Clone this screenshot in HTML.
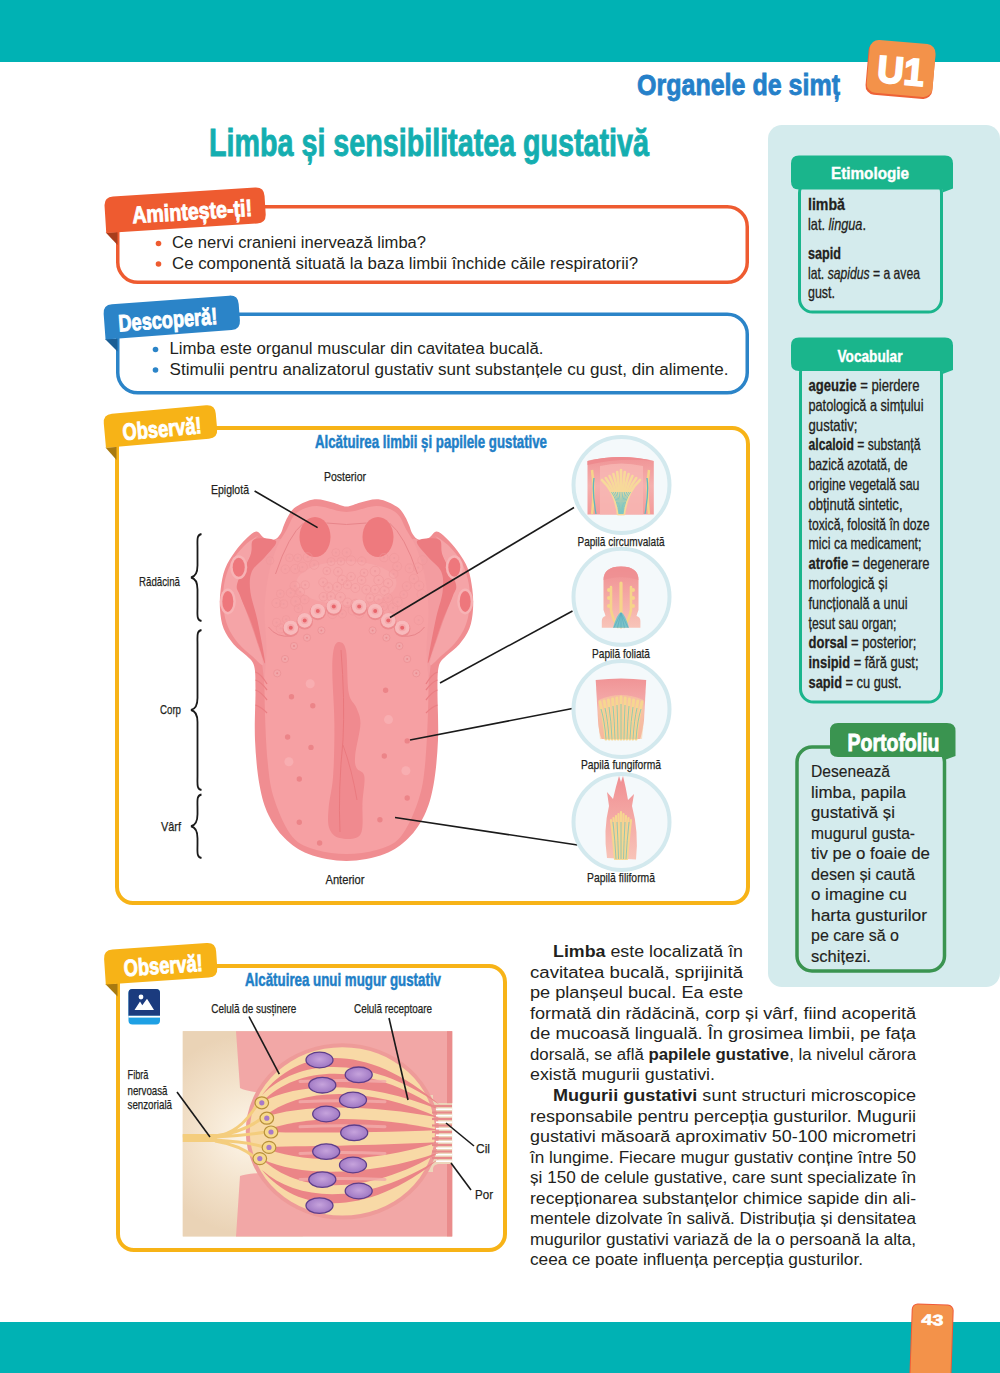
<!DOCTYPE html>
<html><head><meta charset="utf-8"><title>Limba</title>
<style>
html,body{margin:0;padding:0;background:#fff;width:1000px;height:1373px;overflow:hidden}
svg{display:block;font-family:"Liberation Sans", sans-serif}
</style></head><body>
<svg width="1000" height="1373" viewBox="0 0 1000 1373">
<rect x="0" y="0" width="1000" height="62" fill="#00b2b4"/>
<rect x="0" y="1322" width="1000" height="51" fill="#00b2b4"/>
<g transform="rotate(5 902 70)"><rect x="867" y="44" width="67" height="53" rx="9" fill="#ee6236"/><rect x="868" y="42" width="66" height="53" rx="9" fill="#f3924a"/><text x="901" y="84" font-size="38" font-weight="bold" fill="#fff" text-anchor="middle" textLength="47" lengthAdjust="spacingAndGlyphs" stroke="#fff" stroke-width="1.8">U1</text></g>
<g transform="rotate(2 932 1330)"><rect x="911" y="1304" width="42" height="90" rx="6" fill="#f05a3a"/><rect x="912" y="1305" width="40" height="90" rx="5" fill="#f3924a"/><text x="932" y="1325" font-size="15" font-weight="bold" fill="#fff" text-anchor="middle" textLength="22" lengthAdjust="spacingAndGlyphs" stroke="#fff" stroke-width="0.6">43</text></g>
<text x="637" y="95.3" font-size="29.5" font-weight="bold" fill="#2580c9" textLength="203" lengthAdjust="spacingAndGlyphs" stroke="#2580c9" stroke-width="0.8">Organele de simț</text>
<text x="209" y="156" font-size="39" font-weight="bold" fill="#14aeb0" textLength="440" lengthAdjust="spacingAndGlyphs" stroke="#14aeb0" stroke-width="0.9">Limba și sensibilitatea gustativă</text>
<rect x="768" y="125" width="232" height="862" rx="14" fill="#d4ebed"/>
<rect x="799.5" y="180" width="142" height="132" rx="13" fill="none" stroke="#1ab58c" stroke-width="3"/>
<path d="M799,155.5 H945 Q953,155.5 953,163.5 V188.5 L942.5,192.5 V189.5 H799 Q791,189.5 791,181.5 V163.5 Q791,155.5 799,155.5 Z" fill="#1ab58c"/>
<text x="870" y="178.5" font-size="16.5" font-weight="bold" fill="#fff" text-anchor="middle" textLength="78" lengthAdjust="spacingAndGlyphs" stroke="#fff" stroke-width="0.4">Etimologie</text>
<text x="808" y="209.5" font-size="16.5" font-weight="bold" fill="#231f20" textLength="37" lengthAdjust="spacingAndGlyphs" stroke="#231f20" stroke-width="0.3">limbă</text>
<text x="808" y="229.5" font-size="16.5" fill="#231f20" textLength="58" lengthAdjust="spacingAndGlyphs" stroke="#231f20" stroke-width="0.3">lat. <tspan font-style="italic">lingua</tspan>.</text>
<text x="808" y="258.5" font-size="16.5" font-weight="bold" fill="#231f20" textLength="33" lengthAdjust="spacingAndGlyphs" stroke="#231f20" stroke-width="0.3">sapid</text>
<text x="808" y="278.5" font-size="16.5" fill="#231f20" textLength="112" lengthAdjust="spacingAndGlyphs" stroke="#231f20" stroke-width="0.3">lat. <tspan font-style="italic">sapidus</tspan> = a avea</text>
<text x="808" y="298" font-size="16.5" fill="#231f20" textLength="27" lengthAdjust="spacingAndGlyphs" stroke="#231f20" stroke-width="0.3">gust.</text>
<rect x="800.5" y="360" width="141" height="342" rx="13" fill="none" stroke="#1ab58c" stroke-width="3"/>
<path d="M799,337.5 H945 Q953,337.5 953,345.5 V370 L942.5,374 V371 H799 Q791,371 791,363 V345.5 Q791,337.5 799,337.5 Z" fill="#1ab58c"/>
<text x="870" y="362" font-size="16.5" font-weight="bold" fill="#fff" text-anchor="middle" textLength="65" lengthAdjust="spacingAndGlyphs" stroke="#fff" stroke-width="0.4">Vocabular</text>
<text x="808.5" y="391.0" font-size="16.5" fill="#231f20" textLength="111" lengthAdjust="spacingAndGlyphs" stroke="#231f20" stroke-width="0.3"><tspan font-weight="bold">ageuzie</tspan> = pierdere</text>
<text x="808.5" y="410.8" font-size="16.5" fill="#231f20" textLength="115" lengthAdjust="spacingAndGlyphs" stroke="#231f20" stroke-width="0.3">patologică a simțului</text>
<text x="808.5" y="430.6" font-size="16.5" fill="#231f20" textLength="49" lengthAdjust="spacingAndGlyphs" stroke="#231f20" stroke-width="0.3">gustativ;</text>
<text x="808.5" y="450.4" font-size="16.5" fill="#231f20" textLength="112" lengthAdjust="spacingAndGlyphs" stroke="#231f20" stroke-width="0.3"><tspan font-weight="bold">alcaloid</tspan> = substanță</text>
<text x="808.5" y="470.2" font-size="16.5" fill="#231f20" textLength="99" lengthAdjust="spacingAndGlyphs" stroke="#231f20" stroke-width="0.3">bazică azotată, de</text>
<text x="808.5" y="490.0" font-size="16.5" fill="#231f20" textLength="111" lengthAdjust="spacingAndGlyphs" stroke="#231f20" stroke-width="0.3">origine vegetală sau</text>
<text x="808.5" y="509.8" font-size="16.5" fill="#231f20" textLength="94" lengthAdjust="spacingAndGlyphs" stroke="#231f20" stroke-width="0.3">obținută sintetic,</text>
<text x="808.5" y="529.6" font-size="16.5" fill="#231f20" textLength="121" lengthAdjust="spacingAndGlyphs" stroke="#231f20" stroke-width="0.3">toxică, folosită în doze</text>
<text x="808.5" y="549.4" font-size="16.5" fill="#231f20" textLength="113" lengthAdjust="spacingAndGlyphs" stroke="#231f20" stroke-width="0.3">mici ca medicament;</text>
<text x="808.5" y="569.2" font-size="16.5" fill="#231f20" textLength="121" lengthAdjust="spacingAndGlyphs" stroke="#231f20" stroke-width="0.3"><tspan font-weight="bold">atrofie</tspan> = degenerare</text>
<text x="808.5" y="589.0" font-size="16.5" fill="#231f20" textLength="79" lengthAdjust="spacingAndGlyphs" stroke="#231f20" stroke-width="0.3">morfologică și</text>
<text x="808.5" y="608.8" font-size="16.5" fill="#231f20" textLength="99" lengthAdjust="spacingAndGlyphs" stroke="#231f20" stroke-width="0.3">funcțională a unui</text>
<text x="808.5" y="628.6" font-size="16.5" fill="#231f20" textLength="88" lengthAdjust="spacingAndGlyphs" stroke="#231f20" stroke-width="0.3">țesut sau organ;</text>
<text x="808.5" y="648.4" font-size="16.5" fill="#231f20" textLength="108" lengthAdjust="spacingAndGlyphs" stroke="#231f20" stroke-width="0.3"><tspan font-weight="bold">dorsal</tspan> = posterior;</text>
<text x="808.5" y="668.2" font-size="16.5" fill="#231f20" textLength="110" lengthAdjust="spacingAndGlyphs" stroke="#231f20" stroke-width="0.3"><tspan font-weight="bold">insipid</tspan> = fără gust;</text>
<text x="808.5" y="688.0" font-size="16.5" fill="#231f20" textLength="93" lengthAdjust="spacingAndGlyphs" stroke="#231f20" stroke-width="0.3"><tspan font-weight="bold">sapid</tspan> = cu gust.</text>
<rect x="797" y="747" width="147.5" height="224" rx="15" fill="none" stroke="#3a9450" stroke-width="3.5"/>
<path d="M838,723 H947 Q955.5,723 955.5,731 V756 L944.5,760 V757 H838 Q830,757 830,749 V731 Q830,723 838,723 Z" fill="#3a9450"/>
<text x="893.5" y="750.5" font-size="24.5" font-weight="bold" fill="#fff" text-anchor="middle" textLength="92" lengthAdjust="spacingAndGlyphs" stroke="#fff" stroke-width="0.9">Portofoliu</text>
<text x="811" y="777.0" font-size="17" fill="#231f20" textLength="79" lengthAdjust="spacingAndGlyphs" stroke="#231f20" stroke-width="0.15">Desenează</text>
<text x="811" y="797.5" font-size="17" fill="#231f20" textLength="95" lengthAdjust="spacingAndGlyphs" stroke="#231f20" stroke-width="0.15">limba, papila</text>
<text x="811" y="818.0" font-size="17" fill="#231f20" textLength="84" lengthAdjust="spacingAndGlyphs" stroke="#231f20" stroke-width="0.15">gustativă și</text>
<text x="811" y="838.5" font-size="17" fill="#231f20" textLength="104" lengthAdjust="spacingAndGlyphs" stroke="#231f20" stroke-width="0.15">mugurul gusta-</text>
<text x="811" y="859.0" font-size="17" fill="#231f20" textLength="119" lengthAdjust="spacingAndGlyphs" stroke="#231f20" stroke-width="0.15">tiv pe o foaie de</text>
<text x="811" y="879.5" font-size="17" fill="#231f20" textLength="104" lengthAdjust="spacingAndGlyphs" stroke="#231f20" stroke-width="0.15">desen și caută</text>
<text x="811" y="900.0" font-size="17" fill="#231f20" textLength="96" lengthAdjust="spacingAndGlyphs" stroke="#231f20" stroke-width="0.15">o imagine cu</text>
<text x="811" y="920.5" font-size="17" fill="#231f20" textLength="116" lengthAdjust="spacingAndGlyphs" stroke="#231f20" stroke-width="0.15">harta gusturilor</text>
<text x="811" y="941.0" font-size="17" fill="#231f20" textLength="88" lengthAdjust="spacingAndGlyphs" stroke="#231f20" stroke-width="0.15">pe care să o</text>
<text x="811" y="961.5" font-size="17" fill="#231f20" textLength="60" lengthAdjust="spacingAndGlyphs" stroke="#231f20" stroke-width="0.15">schițezi.</text>
<rect x="117.75" y="206.75" width="629.5" height="75.5" rx="20" fill="#fff" stroke="#ee5b30" stroke-width="3.5"/>
<path d="M105.7,232.4 L117.5,231.9 L117.5,244.9 Z" fill="#a83d1c"/>
<g transform="translate(104,197) rotate(-3.58)"><path d="M0,36 V9 Q0,0 9,0 H151.3 Q160.3,0 160.3,9 V27 Q160.3,36 151.3,36 Z" fill="#ee5b30"/><text x="27" y="28" font-size="23.5" font-weight="bold" fill="#fff" stroke="#fff" stroke-width="0.9" textLength="120" lengthAdjust="spacingAndGlyphs">Amintește-ți!</text></g>
<circle cx="158.5" cy="243.5" r="2.8" fill="#ee5b30"/><circle cx="158.5" cy="264" r="2.8" fill="#ee5b30"/>
<text x="172" y="248" font-size="16" fill="#231f20" textLength="254" lengthAdjust="spacingAndGlyphs">Ce nervi cranieni inervează limba?</text>
<text x="172" y="268.7" font-size="16" fill="#231f20" textLength="466" lengthAdjust="spacingAndGlyphs">Ce componentă situată la baza limbii închide căile respiratorii?</text>
<rect x="117.75" y="314.25" width="629.5" height="78.5" rx="20" fill="#fff" stroke="#2b84c8" stroke-width="3.5"/>
<path d="M105.0,338.9 L117.5,338.4 L117.5,351.4 Z" fill="#1a5d94"/>
<g transform="translate(103,305) rotate(-4.24)"><path d="M0,34.5 V9 Q0,0 9,0 H126.4 Q135.4,0 135.4,9 V25.5 Q135.4,34.5 126.4,34.5 Z" fill="#2b84c8"/><text x="14" y="27.5" font-size="23.5" font-weight="bold" fill="#fff" stroke="#fff" stroke-width="0.9" textLength="99" lengthAdjust="spacingAndGlyphs">Descoperă!</text></g>
<circle cx="155.5" cy="349.5" r="2.8" fill="#2b84c8"/><circle cx="155.5" cy="370" r="2.8" fill="#2b84c8"/>
<text x="169.5" y="353.7" font-size="16" fill="#231f20" textLength="374" lengthAdjust="spacingAndGlyphs">Limba este organul muscular din cavitatea bucală.</text>
<text x="169.5" y="374.5" font-size="16" fill="#231f20" textLength="559" lengthAdjust="spacingAndGlyphs">Stimulii pentru analizatorul gustativ sunt substanțele cu gust, din alimente.</text>
<rect x="117.0" y="428.0" width="631" height="475" rx="16" fill="#fff" stroke="#f7b317" stroke-width="4"/>
<path d="M105.5,447.4 L116.5,446.9 L116.5,459.9 Z" fill="#a87a10"/>
<g transform="translate(103,414.5) rotate(-5.10)"><path d="M0,33.5 V9 Q0,0 9,0 H103.4 Q112.4,0 112.4,9 V24.5 Q112.4,33.5 103.4,33.5 Z" fill="#f7b317"/><text x="18" y="27.5" font-size="23.5" font-weight="bold" fill="#fff" stroke="#fff" stroke-width="0.9" textLength="79" lengthAdjust="spacingAndGlyphs">Observă!</text></g>
<rect x="118.0" y="966.0" width="387" height="284" rx="16" fill="#fff" stroke="#f7b317" stroke-width="4"/>
<path d="M105.3,984.0 L117.5,983.5 L117.5,996.5 Z" fill="#a87a10"/>
<g transform="translate(103.5,950) rotate(-3.83)"><path d="M0,34.60000000000002 V9 Q0,0 9,0 H103.3 Q112.3,0 112.3,9 V25.600000000000023 Q112.3,34.60000000000002 103.3,34.60000000000002 Z" fill="#f7b317"/><text x="19" y="27.5" font-size="23.5" font-weight="bold" fill="#fff" stroke="#fff" stroke-width="0.9" textLength="79" lengthAdjust="spacingAndGlyphs">Observă!</text></g>
<text x="553" y="957" font-size="16" fill="#231f20" textLength="190" lengthAdjust="spacingAndGlyphs"><tspan font-weight="bold">Limba</tspan> este localizată în</text>
<text x="530" y="977.5" font-size="16" fill="#231f20" textLength="213" lengthAdjust="spacingAndGlyphs">cavitatea bucală, sprijinită</text>
<text x="530" y="998" font-size="16" fill="#231f20" textLength="213" lengthAdjust="spacingAndGlyphs">pe planșeul bucal. Ea este</text>
<text x="530" y="1018.7" font-size="16" fill="#231f20" textLength="386" lengthAdjust="spacingAndGlyphs">formată din rădăcină, corp și vârf, fiind acoperită</text>
<text x="530" y="1039.2" font-size="16" fill="#231f20" textLength="386" lengthAdjust="spacingAndGlyphs">de mucoasă linguală. În grosimea limbii, pe fața</text>
<text x="530" y="1059.6" font-size="16" fill="#231f20" textLength="386" lengthAdjust="spacingAndGlyphs">dorsală, se află <tspan font-weight="bold">papilele gustative</tspan>, la nivelul cărora</text>
<text x="530" y="1080" font-size="16" fill="#231f20" textLength="185" lengthAdjust="spacingAndGlyphs">există mugurii gustativi.</text>
<text x="553" y="1100.7" font-size="16" fill="#231f20" textLength="363" lengthAdjust="spacingAndGlyphs"><tspan font-weight="bold">Mugurii gustativi</tspan> sunt structuri microscopice</text>
<text x="530" y="1121.5" font-size="16" fill="#231f20" textLength="386" lengthAdjust="spacingAndGlyphs">responsabile pentru percepția gusturilor. Mugurii</text>
<text x="530" y="1142" font-size="16" fill="#231f20" textLength="386" lengthAdjust="spacingAndGlyphs">gustativi măsoară aproximativ 50-100 micrometri</text>
<text x="530" y="1162.5" font-size="16" fill="#231f20" textLength="386" lengthAdjust="spacingAndGlyphs">în lungime. Fiecare mugur gustativ conține între 50</text>
<text x="530" y="1183" font-size="16" fill="#231f20" textLength="386" lengthAdjust="spacingAndGlyphs">și 150 de celule gustative, care sunt specializate în</text>
<text x="530" y="1203.5" font-size="16" fill="#231f20" textLength="386" lengthAdjust="spacingAndGlyphs">recepționarea substanțelor chimice sapide din ali-</text>
<text x="530" y="1224" font-size="16" fill="#231f20" textLength="386" lengthAdjust="spacingAndGlyphs">mentele dizolvate în salivă. Distribuția și densitatea</text>
<text x="530" y="1244.5" font-size="16" fill="#231f20" textLength="386" lengthAdjust="spacingAndGlyphs">mugurilor gustativi variază de la o persoană la alta,</text>
<text x="530" y="1265" font-size="16" fill="#231f20" textLength="333" lengthAdjust="spacingAndGlyphs">ceea ce poate influența percepția gusturilor.</text>
<defs><radialGradient id="tg" cx="0.5" cy="0.45" r="0.6"><stop offset="0" stop-color="#f8aaad"/><stop offset="1" stop-color="#f59ea2"/></radialGradient></defs>
<path d="M346.5,506.5 C341.8,506.5 337.8,503.7 332.5,502.5 C327.2,501.3 320.6,498.6 314.5,499.3 C308.4,500.0 300.4,504.0 296.0,506.8 C291.6,509.6 290.0,513.4 288.0,516.4 C286.0,519.4 285.2,522.2 284.0,525.0 C282.8,527.8 282.2,530.8 281.0,533.0 C279.8,535.2 278.3,537.3 276.5,538.5 C274.7,539.7 272.6,540.6 270.4,540.4 C268.2,540.2 265.8,539.0 263.5,537.5 C261.2,536.0 259.2,531.4 256.4,531.5 C253.6,531.6 250.4,534.7 246.9,538.0 C243.4,541.3 238.9,546.1 235.3,551.2 C231.7,556.3 227.5,562.4 225.1,568.7 C222.7,575.0 221.5,582.2 220.7,589.0 C219.8,595.8 219.5,602.8 220.0,609.4 C220.5,616.0 221.3,622.6 223.6,628.4 C225.9,634.2 229.9,639.8 233.8,644.4 C237.7,649.0 243.5,652.4 246.9,656.0 C250.3,659.6 252.8,660.6 254.2,666.3 C255.6,672.0 255.4,677.7 255.5,690.0 C255.6,702.3 254.3,724.2 255.0,740.0 C255.7,755.8 257.2,772.5 259.5,785.0 C261.8,797.5 264.3,806.2 268.5,815.0 C272.7,823.8 277.8,831.5 284.5,838.0 C291.2,844.5 298.2,850.2 308.5,854.0 C318.8,857.8 333.8,861.0 346.5,861.0 C359.2,861.0 374.2,857.8 384.5,854.0 C394.8,850.2 401.8,844.5 408.5,838.0 C415.2,831.5 420.3,823.8 424.5,815.0 C428.7,806.2 431.2,797.5 433.5,785.0 C435.8,772.5 437.3,755.8 438.0,740.0 C438.7,724.2 437.4,702.3 437.5,690.0 C437.6,677.7 437.4,672.0 438.8,666.3 C440.2,660.6 442.7,659.6 446.1,656.0 C449.5,652.4 455.3,649.0 459.2,644.4 C463.1,639.8 467.1,634.2 469.4,628.4 C471.7,622.6 472.5,616.0 473.0,609.4 C473.5,602.8 473.2,595.8 472.3,589.0 C471.4,582.2 470.3,575.0 467.9,568.7 C465.5,562.4 461.3,556.3 457.7,551.2 C454.1,546.1 449.6,541.3 446.1,538.0 C442.6,534.7 439.4,531.6 436.6,531.5 C433.8,531.4 431.8,536.0 429.5,537.5 C427.2,539.0 424.8,540.2 422.6,540.4 C420.4,540.6 418.3,539.7 416.5,538.5 C414.7,537.3 413.2,535.2 412.0,533.0 C410.8,530.8 410.2,527.8 409.0,525.0 C407.8,522.2 407.0,519.4 405.0,516.4 C403.0,513.4 401.4,509.6 397.0,506.8 C392.6,504.0 384.6,500.0 378.5,499.3 C372.4,498.6 365.8,501.3 360.5,502.5 C355.2,503.7 351.2,506.5 346.5,506.5Z" fill="#f08d91"/>
<path d="M272.0,541.0 C268.2,542.8 265.8,550.8 262.0,556.0 C258.2,561.2 251.5,566.0 249.0,572.0 C246.5,578.0 246.2,583.8 247.0,592.0 C247.8,600.2 251.5,609.0 254.0,621.0 C256.5,633.0 259.7,650.8 262.0,664.0 C264.3,677.2 264.2,694.0 268.0,700.0 C271.8,706.0 281.3,716.7 285.0,700.0 C288.7,683.3 290.0,625.8 290.0,600.0 C290.0,574.2 288.0,554.8 285.0,545.0 C282.0,535.2 275.8,539.2 272.0,541.0Z" fill="#f39ca0"/>
<path d="M421.0,541.0 C424.8,542.8 427.2,550.8 431.0,556.0 C434.8,561.2 441.5,566.0 444.0,572.0 C446.5,578.0 446.8,583.8 446.0,592.0 C445.2,600.2 441.5,609.0 439.0,621.0 C436.5,633.0 433.3,650.8 431.0,664.0 C428.7,677.2 428.8,694.0 425.0,700.0 C421.2,706.0 411.7,716.7 408.0,700.0 C404.3,683.3 403.0,625.8 403.0,600.0 C403.0,574.2 405.0,554.8 408.0,545.0 C411.0,535.2 417.2,539.2 421.0,541.0Z" fill="#f39ca0"/>
<path d="M346.5,512.0 C336.5,512.0 324.8,505.8 316.5,506.0 C308.2,506.2 301.5,509.0 296.5,513.0 C291.5,517.0 289.8,524.2 286.5,530.0 C283.2,535.8 279.5,540.5 276.5,548.0 C273.5,555.5 270.5,564.7 268.5,575.0 C266.5,585.3 264.8,597.5 264.5,610.0 C264.2,622.5 266.5,636.7 266.5,650.0 C266.5,663.3 264.3,671.7 264.5,690.0 C264.7,708.3 265.8,741.7 267.5,760.0 C269.2,778.3 270.3,787.2 274.5,800.0 C278.7,812.8 285.5,828.7 292.5,837.0 C299.5,845.3 307.5,847.2 316.5,850.0 C325.5,852.8 336.5,854.0 346.5,854.0 C356.5,854.0 367.5,852.8 376.5,850.0 C385.5,847.2 393.5,845.3 400.5,837.0 C407.5,828.7 414.3,812.8 418.5,800.0 C422.7,787.2 423.8,778.3 425.5,760.0 C427.2,741.7 428.3,708.3 428.5,690.0 C428.7,671.7 426.5,663.3 426.5,650.0 C426.5,636.7 428.8,622.5 428.5,610.0 C428.2,597.5 426.5,585.3 424.5,575.0 C422.5,564.7 419.5,555.5 416.5,548.0 C413.5,540.5 409.8,535.8 406.5,530.0 C403.2,524.2 401.5,517.0 396.5,513.0 C391.5,509.0 384.8,506.2 376.5,506.0 C368.2,505.8 356.5,512.0 346.5,512.0Z" fill="#f6a0a3"/>
<path d="M258.0,536.0 C256.3,536.8 248.5,541.5 244.0,546.0 C239.5,550.5 234.3,556.5 231.0,563.0 C227.7,569.5 225.2,577.5 224.0,585.0 C222.8,592.5 222.8,601.0 223.5,608.0 C224.2,615.0 225.6,621.2 228.0,627.0 C230.4,632.8 234.0,638.2 238.0,643.0 C242.0,647.8 247.8,652.5 252.0,656.0 C256.2,659.5 262.8,668.3 263.0,664.0 C263.2,659.7 256.7,641.2 253.0,630.0 C249.3,618.8 243.5,604.8 241.0,597.0 C238.5,589.2 236.5,589.7 238.0,583.0 C239.5,576.3 247.3,564.0 250.0,557.0 C252.7,550.0 252.7,544.5 254.0,541.0 C255.3,537.5 259.7,535.2 258.0,536.0Z" fill="#f5a4a7"/>
<path d="M254.0,539.5 C249.7,541.9 253.2,548.2 250.4,555.5 C247.6,562.8 239.0,576.5 237.3,583.2 C235.6,590.0 237.8,589.2 240.2,596.0 C242.6,602.8 247.7,612.8 251.8,624.0 C255.9,635.2 264.0,663.8 265.0,663.3 C266.0,662.8 260.0,632.9 257.6,621.0 C255.2,609.1 251.4,600.2 250.4,592.0 C249.4,583.8 249.4,577.4 251.8,571.6 C254.2,565.8 261.0,562.1 265.0,557.0 C269.0,551.9 277.8,543.9 276.0,541.0 C274.2,538.1 258.3,537.1 254.0,539.5Z" fill="#ec7b80"/>
<ellipse cx="238.7" cy="567.2" rx="8.5" ry="12" fill="#f7b3b5"/><ellipse cx="238.7" cy="567.2" rx="6" ry="9.5" fill="#ee777c"/>
<ellipse cx="227.8" cy="601.4" rx="8" ry="13" fill="#f7b3b5"/><ellipse cx="227.8" cy="601.4" rx="5.5" ry="10.5" fill="#ee777c"/>
<ellipse cx="315.0" cy="537" rx="15.5" ry="20" fill="#ee7a7e"/>
<path d="M435.0,536.0 C436.7,536.8 444.5,541.5 449.0,546.0 C453.5,550.5 458.7,556.5 462.0,563.0 C465.3,569.5 467.8,577.5 469.0,585.0 C470.2,592.5 470.2,601.0 469.5,608.0 C468.8,615.0 467.4,621.2 465.0,627.0 C462.6,632.8 459.0,638.2 455.0,643.0 C451.0,647.8 445.2,652.5 441.0,656.0 C436.8,659.5 430.2,668.3 430.0,664.0 C429.8,659.7 436.3,641.2 440.0,630.0 C443.7,618.8 449.5,604.8 452.0,597.0 C454.5,589.2 456.5,589.7 455.0,583.0 C453.5,576.3 445.7,564.0 443.0,557.0 C440.3,550.0 440.3,544.5 439.0,541.0 C437.7,537.5 433.3,535.2 435.0,536.0Z" fill="#f5a4a7"/>
<path d="M439.0,539.5 C443.3,541.9 439.8,548.2 442.6,555.5 C445.4,562.8 454.0,576.5 455.7,583.2 C457.4,590.0 455.2,589.2 452.8,596.0 C450.4,602.8 445.3,612.8 441.2,624.0 C437.1,635.2 429.0,663.8 428.0,663.3 C427.0,662.8 433.0,632.9 435.4,621.0 C437.8,609.1 441.6,600.2 442.6,592.0 C443.6,583.8 443.6,577.4 441.2,571.6 C438.8,565.8 432.0,562.1 428.0,557.0 C424.0,551.9 415.2,543.9 417.0,541.0 C418.8,538.1 434.7,537.1 439.0,539.5Z" fill="#ec7b80"/>
<ellipse cx="454.3" cy="567.2" rx="8.5" ry="12" fill="#f7b3b5"/><ellipse cx="454.3" cy="567.2" rx="6" ry="9.5" fill="#ee777c"/>
<ellipse cx="465.2" cy="601.4" rx="8" ry="13" fill="#f7b3b5"/><ellipse cx="465.2" cy="601.4" rx="5.5" ry="10.5" fill="#ee777c"/>
<ellipse cx="378.0" cy="537" rx="15.5" ry="20" fill="#ee7a7e"/>
<path d="M326.5,523 Q346.5,526 366.5,523" stroke="#e8858a" stroke-width="1" fill="none"/>
<path d="M303.5,523 Q288.5,535 275.5,574" stroke="#e8858a" stroke-width="1" fill="none"/>
<path d="M389.5,523 Q404.5,535 417.5,574" stroke="#e8858a" stroke-width="1" fill="none"/>
<ellipse cx="346.5" cy="583" rx="50" ry="22" fill="#f7adb0" opacity="0.5"/>
<circle cx="270.0" cy="560.6" r="3.9" fill="none" stroke="#ee979b" stroke-width="0.7" opacity="0.8"/><circle cx="270.0" cy="560.6" r="1.1" fill="#ef9ca0"/>
<circle cx="289.5" cy="557.8" r="3.9" fill="none" stroke="#ee979b" stroke-width="0.7" opacity="0.8"/><circle cx="289.5" cy="557.8" r="1.1" fill="#ef9ca0"/>
<circle cx="297.8" cy="557.8" r="3.9" fill="none" stroke="#ee979b" stroke-width="0.7" opacity="0.8"/><circle cx="297.8" cy="557.8" r="1.1" fill="#ef9ca0"/>
<circle cx="307.7" cy="557.2" r="4.5" fill="none" stroke="#ee979b" stroke-width="0.7" opacity="0.8"/><circle cx="307.7" cy="557.2" r="1.1" fill="#ef9ca0"/>
<circle cx="335.9" cy="552.6" r="4.0" fill="none" stroke="#ee979b" stroke-width="0.7" opacity="0.8"/><circle cx="335.9" cy="552.6" r="1.1" fill="#ef9ca0"/>
<circle cx="346.7" cy="552.4" r="4.5" fill="none" stroke="#ee979b" stroke-width="0.7" opacity="0.8"/><circle cx="346.7" cy="552.4" r="1.1" fill="#ef9ca0"/>
<circle cx="383.9" cy="557.7" r="4.1" fill="none" stroke="#ee979b" stroke-width="0.7" opacity="0.8"/><circle cx="383.9" cy="557.7" r="1.1" fill="#ef9ca0"/>
<circle cx="394.2" cy="558.1" r="4.7" fill="none" stroke="#ee979b" stroke-width="0.7" opacity="0.8"/><circle cx="394.2" cy="558.1" r="1.1" fill="#ef9ca0"/>
<circle cx="422.5" cy="560.2" r="4.7" fill="none" stroke="#ee979b" stroke-width="0.7" opacity="0.8"/><circle cx="422.5" cy="560.2" r="1.1" fill="#ef9ca0"/>
<circle cx="285.3" cy="569.2" r="4.3" fill="none" stroke="#ee979b" stroke-width="0.7" opacity="0.8"/><circle cx="285.3" cy="569.2" r="1.1" fill="#ef9ca0"/>
<circle cx="295.2" cy="569.0" r="4.6" fill="none" stroke="#ee979b" stroke-width="0.7" opacity="0.8"/><circle cx="295.2" cy="569.0" r="1.1" fill="#ef9ca0"/>
<circle cx="302.4" cy="567.1" r="5.0" fill="none" stroke="#ee979b" stroke-width="0.7" opacity="0.8"/><circle cx="302.4" cy="567.1" r="1.1" fill="#ef9ca0"/>
<circle cx="314.2" cy="564.7" r="4.6" fill="none" stroke="#ee979b" stroke-width="0.7" opacity="0.8"/><circle cx="314.2" cy="564.7" r="1.1" fill="#ef9ca0"/>
<circle cx="331.1" cy="561.6" r="4.0" fill="none" stroke="#ee979b" stroke-width="0.7" opacity="0.8"/><circle cx="331.1" cy="561.6" r="1.1" fill="#ef9ca0"/>
<circle cx="340.9" cy="561.4" r="3.9" fill="none" stroke="#ee979b" stroke-width="0.7" opacity="0.8"/><circle cx="340.9" cy="561.4" r="1.1" fill="#ef9ca0"/>
<circle cx="351.0" cy="560.6" r="4.8" fill="none" stroke="#ee979b" stroke-width="0.7" opacity="0.8"/><circle cx="351.0" cy="560.6" r="1.1" fill="#ef9ca0"/>
<circle cx="361.8" cy="561.0" r="4.2" fill="none" stroke="#ee979b" stroke-width="0.7" opacity="0.8"/><circle cx="361.8" cy="561.0" r="1.1" fill="#ef9ca0"/>
<circle cx="397.2" cy="566.3" r="4.5" fill="none" stroke="#ee979b" stroke-width="0.7" opacity="0.8"/><circle cx="397.2" cy="566.3" r="1.1" fill="#ef9ca0"/>
<circle cx="409.6" cy="568.3" r="4.5" fill="none" stroke="#ee979b" stroke-width="0.7" opacity="0.8"/><circle cx="409.6" cy="568.3" r="1.1" fill="#ef9ca0"/>
<circle cx="418.2" cy="567.6" r="4.7" fill="none" stroke="#ee979b" stroke-width="0.7" opacity="0.8"/><circle cx="418.2" cy="567.6" r="1.1" fill="#ef9ca0"/>
<circle cx="326.8" cy="570.9" r="3.9" fill="none" stroke="#ee979b" stroke-width="0.7" opacity="0.8"/><circle cx="326.8" cy="570.9" r="1.1" fill="#ef9ca0"/>
<circle cx="338.0" cy="571.7" r="4.4" fill="none" stroke="#ee979b" stroke-width="0.7" opacity="0.8"/><circle cx="338.0" cy="571.7" r="1.1" fill="#ef9ca0"/>
<circle cx="364.1" cy="572.8" r="4.0" fill="none" stroke="#ee979b" stroke-width="0.7" opacity="0.8"/><circle cx="364.1" cy="572.8" r="1.1" fill="#ef9ca0"/>
<circle cx="375.1" cy="571.2" r="5.0" fill="none" stroke="#ee979b" stroke-width="0.7" opacity="0.8"/><circle cx="375.1" cy="571.2" r="1.1" fill="#ef9ca0"/>
<circle cx="393.6" cy="574.0" r="4.4" fill="none" stroke="#ee979b" stroke-width="0.7" opacity="0.8"/><circle cx="393.6" cy="574.0" r="1.1" fill="#ef9ca0"/>
<circle cx="413.9" cy="578.9" r="4.8" fill="none" stroke="#ee979b" stroke-width="0.7" opacity="0.8"/><circle cx="413.9" cy="578.9" r="1.1" fill="#ef9ca0"/>
<circle cx="294.8" cy="586.1" r="4.9" fill="none" stroke="#ee979b" stroke-width="0.7" opacity="0.8"/><circle cx="294.8" cy="586.1" r="1.1" fill="#ef9ca0"/>
<circle cx="305.2" cy="584.9" r="4.1" fill="none" stroke="#ee979b" stroke-width="0.7" opacity="0.8"/><circle cx="305.2" cy="584.9" r="1.1" fill="#ef9ca0"/>
<circle cx="323.1" cy="582.3" r="4.4" fill="none" stroke="#ee979b" stroke-width="0.7" opacity="0.8"/><circle cx="323.1" cy="582.3" r="1.1" fill="#ef9ca0"/>
<circle cx="342.2" cy="579.9" r="4.7" fill="none" stroke="#ee979b" stroke-width="0.7" opacity="0.8"/><circle cx="342.2" cy="579.9" r="1.1" fill="#ef9ca0"/>
<circle cx="351.1" cy="576.5" r="4.2" fill="none" stroke="#ee979b" stroke-width="0.7" opacity="0.8"/><circle cx="351.1" cy="576.5" r="1.1" fill="#ef9ca0"/>
<circle cx="361.6" cy="580.1" r="4.3" fill="none" stroke="#ee979b" stroke-width="0.7" opacity="0.8"/><circle cx="361.6" cy="580.1" r="1.1" fill="#ef9ca0"/>
<circle cx="378.6" cy="580.1" r="4.8" fill="none" stroke="#ee979b" stroke-width="0.7" opacity="0.8"/><circle cx="378.6" cy="580.1" r="1.1" fill="#ef9ca0"/>
<circle cx="388.1" cy="583.3" r="4.6" fill="none" stroke="#ee979b" stroke-width="0.7" opacity="0.8"/><circle cx="388.1" cy="583.3" r="1.1" fill="#ef9ca0"/>
<circle cx="406.7" cy="586.1" r="4.4" fill="none" stroke="#ee979b" stroke-width="0.7" opacity="0.8"/><circle cx="406.7" cy="586.1" r="1.1" fill="#ef9ca0"/>
<circle cx="419.0" cy="585.7" r="4.8" fill="none" stroke="#ee979b" stroke-width="0.7" opacity="0.8"/><circle cx="419.0" cy="585.7" r="1.1" fill="#ef9ca0"/>
<circle cx="280.3" cy="593.7" r="4.0" fill="none" stroke="#ee979b" stroke-width="0.7" opacity="0.8"/><circle cx="280.3" cy="593.7" r="1.1" fill="#ef9ca0"/>
<circle cx="290.7" cy="592.8" r="4.5" fill="none" stroke="#ee979b" stroke-width="0.7" opacity="0.8"/><circle cx="290.7" cy="592.8" r="1.1" fill="#ef9ca0"/>
<circle cx="300.2" cy="591.8" r="4.4" fill="none" stroke="#ee979b" stroke-width="0.7" opacity="0.8"/><circle cx="300.2" cy="591.8" r="1.1" fill="#ef9ca0"/>
<circle cx="328.4" cy="587.4" r="4.7" fill="none" stroke="#ee979b" stroke-width="0.7" opacity="0.8"/><circle cx="328.4" cy="587.4" r="1.1" fill="#ef9ca0"/>
<circle cx="337.2" cy="586.7" r="4.5" fill="none" stroke="#ee979b" stroke-width="0.7" opacity="0.8"/><circle cx="337.2" cy="586.7" r="1.1" fill="#ef9ca0"/>
<circle cx="347.4" cy="584.8" r="4.1" fill="none" stroke="#ee979b" stroke-width="0.7" opacity="0.8"/><circle cx="347.4" cy="584.8" r="1.1" fill="#ef9ca0"/>
<circle cx="355.3" cy="588.0" r="4.5" fill="none" stroke="#ee979b" stroke-width="0.7" opacity="0.8"/><circle cx="355.3" cy="588.0" r="1.1" fill="#ef9ca0"/>
<circle cx="366.3" cy="589.6" r="4.5" fill="none" stroke="#ee979b" stroke-width="0.7" opacity="0.8"/><circle cx="366.3" cy="589.6" r="1.1" fill="#ef9ca0"/>
<circle cx="375.0" cy="589.6" r="4.3" fill="none" stroke="#ee979b" stroke-width="0.7" opacity="0.8"/><circle cx="375.0" cy="589.6" r="1.1" fill="#ef9ca0"/>
<circle cx="384.6" cy="590.7" r="4.6" fill="none" stroke="#ee979b" stroke-width="0.7" opacity="0.8"/><circle cx="384.6" cy="590.7" r="1.1" fill="#ef9ca0"/>
<circle cx="403.7" cy="594.5" r="4.0" fill="none" stroke="#ee979b" stroke-width="0.7" opacity="0.8"/><circle cx="403.7" cy="594.5" r="1.1" fill="#ef9ca0"/>
<circle cx="421.7" cy="594.3" r="4.7" fill="none" stroke="#ee979b" stroke-width="0.7" opacity="0.8"/><circle cx="421.7" cy="594.3" r="1.1" fill="#ef9ca0"/>
<circle cx="276.4" cy="603.1" r="4.6" fill="none" stroke="#ee979b" stroke-width="0.7" opacity="0.8"/><circle cx="276.4" cy="603.1" r="1.1" fill="#ef9ca0"/>
<circle cx="283.6" cy="604.0" r="4.1" fill="none" stroke="#ee979b" stroke-width="0.7" opacity="0.8"/><circle cx="283.6" cy="604.0" r="1.1" fill="#ef9ca0"/>
<circle cx="295.6" cy="601.4" r="5.0" fill="none" stroke="#ee979b" stroke-width="0.7" opacity="0.8"/><circle cx="295.6" cy="601.4" r="1.1" fill="#ef9ca0"/>
<circle cx="304.7" cy="599.5" r="4.4" fill="none" stroke="#ee979b" stroke-width="0.7" opacity="0.8"/><circle cx="304.7" cy="599.5" r="1.1" fill="#ef9ca0"/>
<circle cx="323.4" cy="596.7" r="4.3" fill="none" stroke="#ee979b" stroke-width="0.7" opacity="0.8"/><circle cx="323.4" cy="596.7" r="1.1" fill="#ef9ca0"/>
<circle cx="330.8" cy="596.4" r="4.4" fill="none" stroke="#ee979b" stroke-width="0.7" opacity="0.8"/><circle cx="330.8" cy="596.4" r="1.1" fill="#ef9ca0"/>
<circle cx="340.4" cy="597.2" r="5.0" fill="none" stroke="#ee979b" stroke-width="0.7" opacity="0.8"/><circle cx="340.4" cy="597.2" r="1.1" fill="#ef9ca0"/>
<circle cx="370.0" cy="598.1" r="4.1" fill="none" stroke="#ee979b" stroke-width="0.7" opacity="0.8"/><circle cx="370.0" cy="598.1" r="1.1" fill="#ef9ca0"/>
<circle cx="378.6" cy="599.4" r="4.6" fill="none" stroke="#ee979b" stroke-width="0.7" opacity="0.8"/><circle cx="378.6" cy="599.4" r="1.1" fill="#ef9ca0"/>
<circle cx="388.0" cy="598.0" r="4.3" fill="none" stroke="#ee979b" stroke-width="0.7" opacity="0.8"/><circle cx="388.0" cy="598.0" r="1.1" fill="#ef9ca0"/>
<circle cx="397.4" cy="601.8" r="4.8" fill="none" stroke="#ee979b" stroke-width="0.7" opacity="0.8"/><circle cx="397.4" cy="601.8" r="1.1" fill="#ef9ca0"/>
<circle cx="298.4" cy="608.4" r="4.1" fill="none" stroke="#ee979b" stroke-width="0.7" opacity="0.8"/><circle cx="298.4" cy="608.4" r="1.1" fill="#ef9ca0"/>
<circle cx="347.5" cy="602.8" r="4.8" fill="none" stroke="#ee979b" stroke-width="0.7" opacity="0.8"/><circle cx="347.5" cy="602.8" r="1.1" fill="#ef9ca0"/>
<circle cx="355.7" cy="604.2" r="5.0" fill="none" stroke="#ee979b" stroke-width="0.7" opacity="0.8"/><circle cx="355.7" cy="604.2" r="1.1" fill="#ef9ca0"/>
<circle cx="365.0" cy="606.4" r="4.6" fill="none" stroke="#ee979b" stroke-width="0.7" opacity="0.8"/><circle cx="365.0" cy="606.4" r="1.1" fill="#ef9ca0"/>
<circle cx="383.4" cy="606.5" r="4.1" fill="none" stroke="#ee979b" stroke-width="0.7" opacity="0.8"/><circle cx="383.4" cy="606.5" r="1.1" fill="#ef9ca0"/>
<circle cx="393.0" cy="607.8" r="4.8" fill="none" stroke="#ee979b" stroke-width="0.7" opacity="0.8"/><circle cx="393.0" cy="607.8" r="1.1" fill="#ef9ca0"/>
<circle cx="276.6" cy="622.5" r="4.1" fill="none" stroke="#ee979b" stroke-width="0.7" opacity="0.8"/><circle cx="276.6" cy="622.5" r="1.1" fill="#ef9ca0"/>
<circle cx="286.1" cy="619.3" r="3.8" fill="none" stroke="#ee979b" stroke-width="0.7" opacity="0.8"/><circle cx="286.1" cy="619.3" r="1.1" fill="#ef9ca0"/>
<circle cx="303.7" cy="616.6" r="3.8" fill="none" stroke="#ee979b" stroke-width="0.7" opacity="0.8"/><circle cx="303.7" cy="616.6" r="1.1" fill="#ef9ca0"/>
<circle cx="312.5" cy="615.1" r="3.9" fill="none" stroke="#ee979b" stroke-width="0.7" opacity="0.8"/><circle cx="312.5" cy="615.1" r="1.1" fill="#ef9ca0"/>
<circle cx="332.5" cy="614.0" r="4.6" fill="none" stroke="#ee979b" stroke-width="0.7" opacity="0.8"/><circle cx="332.5" cy="614.0" r="1.1" fill="#ef9ca0"/>
<circle cx="342.3" cy="613.8" r="4.2" fill="none" stroke="#ee979b" stroke-width="0.7" opacity="0.8"/><circle cx="342.3" cy="613.8" r="1.1" fill="#ef9ca0"/>
<circle cx="352.7" cy="610.4" r="4.6" fill="none" stroke="#ee979b" stroke-width="0.7" opacity="0.8"/><circle cx="352.7" cy="610.4" r="1.1" fill="#ef9ca0"/>
<circle cx="359.3" cy="613.7" r="4.6" fill="none" stroke="#ee979b" stroke-width="0.7" opacity="0.8"/><circle cx="359.3" cy="613.7" r="1.1" fill="#ef9ca0"/>
<circle cx="379.8" cy="615.1" r="4.8" fill="none" stroke="#ee979b" stroke-width="0.7" opacity="0.8"/><circle cx="379.8" cy="615.1" r="1.1" fill="#ef9ca0"/>
<circle cx="390.2" cy="616.6" r="4.6" fill="none" stroke="#ee979b" stroke-width="0.7" opacity="0.8"/><circle cx="390.2" cy="616.6" r="1.1" fill="#ef9ca0"/>
<circle cx="418.7" cy="620.1" r="4.6" fill="none" stroke="#ee979b" stroke-width="0.7" opacity="0.8"/><circle cx="418.7" cy="620.1" r="1.1" fill="#ef9ca0"/>
<circle cx="280.7" cy="628.4" r="4.6" fill="none" stroke="#ee979b" stroke-width="0.7" opacity="0.8"/><circle cx="280.7" cy="628.4" r="1.1" fill="#ef9ca0"/>
<path d="M268.5,627 Q276.5,638 291.5,636" stroke="#e8858a" stroke-width="1" fill="none"/>
<path d="M424.5,627 Q416.5,638 401.5,636" stroke="#e8858a" stroke-width="1" fill="none"/>
<circle cx="290.8" cy="628.7" r="8.2" fill="#ec8a8e"/><circle cx="290.8" cy="627.7" r="7.3" fill="#f8babc"/><circle cx="290.8" cy="627.7" r="3.6" fill="#f5a9ac"/><circle cx="290.8" cy="627.7" r="2" fill="#e8656b"/>
<circle cx="402.2" cy="628.7" r="8.2" fill="#ec8a8e"/><circle cx="402.2" cy="627.7" r="7.3" fill="#f8babc"/><circle cx="402.2" cy="627.7" r="3.6" fill="#f5a9ac"/><circle cx="402.2" cy="627.7" r="2" fill="#e8656b"/>
<circle cx="304.7" cy="621.4" r="8.2" fill="#ec8a8e"/><circle cx="304.7" cy="620.4" r="7.3" fill="#f8babc"/><circle cx="304.7" cy="620.4" r="3.6" fill="#f5a9ac"/><circle cx="304.7" cy="620.4" r="2" fill="#e8656b"/>
<circle cx="388.3" cy="621.4" r="8.2" fill="#ec8a8e"/><circle cx="388.3" cy="620.4" r="7.3" fill="#f8babc"/><circle cx="388.3" cy="620.4" r="3.6" fill="#f5a9ac"/><circle cx="388.3" cy="620.4" r="2" fill="#e8656b"/>
<circle cx="317.8" cy="612" r="8.2" fill="#ec8a8e"/><circle cx="317.8" cy="611" r="7.3" fill="#f8babc"/><circle cx="317.8" cy="611" r="3.6" fill="#f5a9ac"/><circle cx="317.8" cy="611" r="2" fill="#e8656b"/>
<circle cx="375.2" cy="612" r="8.2" fill="#ec8a8e"/><circle cx="375.2" cy="611" r="7.3" fill="#f8babc"/><circle cx="375.2" cy="611" r="3.6" fill="#f5a9ac"/><circle cx="375.2" cy="611" r="2" fill="#e8656b"/>
<circle cx="333.8" cy="607.5" r="8.2" fill="#ec8a8e"/><circle cx="333.8" cy="606.5" r="7.3" fill="#f8babc"/><circle cx="333.8" cy="606.5" r="3.6" fill="#f5a9ac"/><circle cx="333.8" cy="606.5" r="2" fill="#e8656b"/>
<circle cx="359.2" cy="607.5" r="8.2" fill="#ec8a8e"/><circle cx="359.2" cy="606.5" r="7.3" fill="#f8babc"/><circle cx="359.2" cy="606.5" r="3.6" fill="#f5a9ac"/><circle cx="359.2" cy="606.5" r="2" fill="#e8656b"/>
<path d="M339.6,642.0 C337.6,641.5 335.2,643.0 334.0,648.0 C332.8,653.0 332.2,659.3 332.3,672.0 C332.4,684.7 334.3,706.7 334.4,724.0 C334.5,741.3 334.1,762.2 333.1,776.0 C332.2,789.8 329.4,798.3 328.7,807.0 C328.0,815.7 327.4,822.8 329.2,828.0 C331.0,833.2 334.4,836.9 339.6,838.0 C344.8,839.1 356.6,840.5 360.4,834.5 C364.2,828.5 361.9,811.8 362.5,802.0 C363.1,792.2 365.3,781.7 364.3,776.0 C363.3,770.3 358.0,771.5 356.5,768.0 C355.0,764.5 354.6,762.3 355.2,755.0 C355.8,747.7 360.2,731.8 360.4,724.0 C360.6,716.2 358.4,713.2 356.5,708.0 C354.6,702.8 350.4,702.3 348.7,692.8 C347.0,683.3 347.6,659.5 346.1,651.0 C344.6,642.5 341.6,642.5 339.6,642.0Z" fill="#f08a8f"/>
<path d="M341,650 Q345,700 343,740 Q338,790 340,832" stroke="#e9767b" stroke-width="0.9" fill="none"/>
<path d="M343,745 Q352,770 357,800" stroke="#e9767b" stroke-width="0.8" fill="none"/>
<path d="M255.5,672 Q261.25,674 267,684" stroke="#ea7e83" stroke-width="1.3" fill="none"/>
<path d="M255.5,680 Q261.25,682 267,690" stroke="#ea7e83" stroke-width="1.3" fill="none"/>
<path d="M255.5,690 Q261.25,692 267,700" stroke="#ea7e83" stroke-width="1.3" fill="none"/>
<path d="M255.5,705 Q261.25,707 267,713" stroke="#ea7e83" stroke-width="1.3" fill="none"/>
<path d="M437.5,672 Q431.75,674 426,684" stroke="#ea7e83" stroke-width="1.3" fill="none"/>
<path d="M437.5,680 Q431.75,682 426,690" stroke="#ea7e83" stroke-width="1.3" fill="none"/>
<path d="M437.5,690 Q431.75,692 426,700" stroke="#ea7e83" stroke-width="1.3" fill="none"/>
<path d="M437.5,705 Q431.75,707 426,713" stroke="#ea7e83" stroke-width="1.3" fill="none"/>
<circle cx="291.5" cy="696.7" r="2.7" fill="#ec8488"/>
<circle cx="312.8" cy="705.8" r="2.7" fill="#ec8488"/>
<circle cx="287.6" cy="737" r="2.7" fill="#ec8488"/>
<circle cx="311" cy="747.4" r="2.7" fill="#ec8488"/>
<circle cx="299.3" cy="779" r="2.7" fill="#ec8488"/>
<circle cx="299.3" cy="822.3" r="2.7" fill="#ec8488"/>
<circle cx="319.6" cy="843" r="2.7" fill="#ec8488"/>
<circle cx="385.6" cy="690.2" r="2.7" fill="#ec8488"/>
<circle cx="384.3" cy="756" r="2.7" fill="#ec8488"/>
<circle cx="407.2" cy="740.9" r="2.7" fill="#ec8488"/>
<circle cx="407.2" cy="798" r="2.7" fill="#ec8488"/>
<circle cx="379.9" cy="819.7" r="2.7" fill="#ec8488"/>
<circle cx="310.2" cy="683.7" r="4.5" fill="#f8aeb1"/>
<circle cx="288.9" cy="761.7" r="4.5" fill="#f8aeb1"/>
<circle cx="388.5" cy="719.6" r="4.5" fill="#f8aeb1"/>
<circle cx="405.9" cy="770.8" r="4.5" fill="#f8aeb1"/>
<circle cx="277.2" cy="673.3" r="3.6" fill="#f3a6a9" stroke="#ec9094" stroke-width="0.8"/><circle cx="277.2" cy="673.3" r="1" fill="#ea8a8e"/>
<circle cx="285" cy="659" r="3.6" fill="#f3a6a9" stroke="#ec9094" stroke-width="0.8"/><circle cx="285" cy="659" r="1" fill="#ea8a8e"/>
<circle cx="294" cy="646" r="3.6" fill="#f3a6a9" stroke="#ec9094" stroke-width="0.8"/><circle cx="294" cy="646" r="1" fill="#ea8a8e"/>
<circle cx="307" cy="637.7" r="3.6" fill="#f3a6a9" stroke="#ec9094" stroke-width="0.8"/><circle cx="307" cy="637.7" r="1" fill="#ea8a8e"/>
<circle cx="321.4" cy="630.4" r="3.6" fill="#f3a6a9" stroke="#ec9094" stroke-width="0.8"/><circle cx="321.4" cy="630.4" r="1" fill="#ea8a8e"/>
<circle cx="372.6" cy="630.4" r="3.6" fill="#f3a6a9" stroke="#ec9094" stroke-width="0.8"/><circle cx="372.6" cy="630.4" r="1" fill="#ea8a8e"/>
<circle cx="386.4" cy="637.7" r="3.6" fill="#f3a6a9" stroke="#ec9094" stroke-width="0.8"/><circle cx="386.4" cy="637.7" r="1" fill="#ea8a8e"/>
<circle cx="399.4" cy="646" r="3.6" fill="#f3a6a9" stroke="#ec9094" stroke-width="0.8"/><circle cx="399.4" cy="646" r="1" fill="#ea8a8e"/>
<circle cx="407.2" cy="659" r="3.6" fill="#f3a6a9" stroke="#ec9094" stroke-width="0.8"/><circle cx="407.2" cy="659" r="1" fill="#ea8a8e"/>
<circle cx="416.3" cy="673.3" r="3.6" fill="#f3a6a9" stroke="#ec9094" stroke-width="0.8"/><circle cx="416.3" cy="673.3" r="1" fill="#ea8a8e"/>
<line x1="254.6" y1="491" x2="317.6" y2="527.6" stroke="#1a1a1a" stroke-width="1.6"/>
<line x1="390" y1="617.5" x2="574" y2="507.5" stroke="#1a1a1a" stroke-width="1.6"/>
<line x1="440" y1="683" x2="572.5" y2="611" stroke="#1a1a1a" stroke-width="1.6"/>
<line x1="410" y1="740" x2="572.5" y2="708.5" stroke="#1a1a1a" stroke-width="1.6"/>
<line x1="395" y1="817.5" x2="577.5" y2="845" stroke="#1a1a1a" stroke-width="1.6"/>
<path d="M201.5,534 C196.5,535 197.5,540 197.5,548 V565.5 C197.5,572.5 195.5,576.5 191,577.5 C195.5,578.5 197.5,582.5 197.5,589.5 V607 C197.5,615 196.5,620 201.5,621" stroke="#1a1a1a" stroke-width="1.8" fill="none"/>
<path d="M201.5,630 C196.5,631 197.5,636 197.5,644 V698.0 C197.5,705.0 195.5,709.0 191,710.0 C195.5,711.0 197.5,715.0 197.5,722.0 V776 C197.5,784 196.5,789 201.5,790" stroke="#1a1a1a" stroke-width="1.8" fill="none"/>
<path d="M201.5,794.5 C196.5,795.5 197.5,800.5 197.5,808.5 V814.25 C197.5,821.25 195.5,825.25 191,826.25 C195.5,827.25 197.5,831.25 197.5,838.25 V844 C197.5,852 196.5,857 201.5,858" stroke="#1a1a1a" stroke-width="1.8" fill="none"/>
<text x="315" y="448" font-size="17.5" font-weight="bold" fill="#1f7fc7" textLength="232" lengthAdjust="spacingAndGlyphs" stroke="#1f7fc7" stroke-width="0.5">Alcătuirea limbii și papilele gustative</text>
<text x="345" y="481" font-size="13.2" fill="#231f20" text-anchor="middle" textLength="42" lengthAdjust="spacingAndGlyphs" stroke="#231f20" stroke-width="0.25">Posterior</text>
<text x="211" y="494" font-size="13.2" fill="#231f20" textLength="38" lengthAdjust="spacingAndGlyphs" stroke="#231f20" stroke-width="0.25">Epiglotă</text>
<text x="139" y="585.5" font-size="13.2" fill="#231f20" textLength="41" lengthAdjust="spacingAndGlyphs" stroke="#231f20" stroke-width="0.25">Rădăcină</text>
<text x="160" y="714" font-size="13.2" fill="#231f20" textLength="21" lengthAdjust="spacingAndGlyphs" stroke="#231f20" stroke-width="0.25">Corp</text>
<text x="161" y="831" font-size="13.2" fill="#231f20" textLength="20" lengthAdjust="spacingAndGlyphs" stroke="#231f20" stroke-width="0.25">Vârf</text>
<text x="345" y="884" font-size="13.2" fill="#231f20" text-anchor="middle" textLength="39" lengthAdjust="spacingAndGlyphs" stroke="#231f20" stroke-width="0.25">Anterior</text>
<circle cx="621.5" cy="485" r="48" fill="#f4f9fb" stroke="#d3e9ee" stroke-width="4"/>
<circle cx="621.5" cy="596.8" r="48" fill="#f4f9fb" stroke="#d3e9ee" stroke-width="4"/>
<circle cx="621.5" cy="709" r="48" fill="#f4f9fb" stroke="#d3e9ee" stroke-width="4"/>
<circle cx="621.5" cy="822" r="48" fill="#f4f9fb" stroke="#d3e9ee" stroke-width="4"/>
<text x="621" y="545.6" font-size="13.2" fill="#231f20" text-anchor="middle" textLength="87" lengthAdjust="spacingAndGlyphs" stroke="#231f20" stroke-width="0.25">Papilă circumvalată</text>
<text x="621" y="658" font-size="13.2" fill="#231f20" text-anchor="middle" textLength="58" lengthAdjust="spacingAndGlyphs" stroke="#231f20" stroke-width="0.25">Papilă foliată</text>
<text x="621" y="769" font-size="13.2" fill="#231f20" text-anchor="middle" textLength="80" lengthAdjust="spacingAndGlyphs" stroke="#231f20" stroke-width="0.25">Papilă fungiformă</text>
<text x="621" y="882" font-size="13.2" fill="#231f20" text-anchor="middle" textLength="68" lengthAdjust="spacingAndGlyphs" stroke="#231f20" stroke-width="0.25">Papilă filiformă</text>
<defs><linearGradient id="pk" x1="0" y1="0" x2="0" y2="1"><stop offset="0" stop-color="#f09496"/><stop offset="0.5" stop-color="#f5b0ae"/><stop offset="1" stop-color="#f39a9a"/></linearGradient><linearGradient id="pk2" x1="0" y1="0" x2="0" y2="1"><stop offset="0" stop-color="#f08e92"/><stop offset="1" stop-color="#f8c4b8"/></linearGradient></defs>
<path d="M587.5,461 Q620.5,453 653.8,461 V514.6 H587.5 Z" fill="url(#pk)"/>
<path d="M600,466 Q621,461 643,466 V514.6 H600 Z" fill="#f7b8b4" opacity="0.8"/>
<path d="M587.5,461 Q620.5,453 653.8,461 Q620.5,457 587.5,465 Z" fill="#ee8b8f"/>
<path d="M618.0,514 Q615.3,492.0 602.0,480.0" stroke="#f7d99a" stroke-width="2.6" fill="none" stroke-linecap="round"/>
<path d="M618.6,514 Q616.4,492.0 605.8,478.0" stroke="#f7d99a" stroke-width="2.6" fill="none" stroke-linecap="round"/>
<path d="M619.2,514 Q617.6,492.0 609.6,476.0" stroke="#f7d99a" stroke-width="2.6" fill="none" stroke-linecap="round"/>
<path d="M619.8,514 Q618.7,492.0 613.4,474.0" stroke="#f7d99a" stroke-width="2.6" fill="none" stroke-linecap="round"/>
<path d="M620.4,514 Q619.9,492.0 617.2,472.0" stroke="#f7d99a" stroke-width="2.6" fill="none" stroke-linecap="round"/>
<path d="M621.0,514 Q621.0,492.0 621.0,470.0" stroke="#f7d99a" stroke-width="2.6" fill="none" stroke-linecap="round"/>
<path d="M621.6,514 Q622.1,492.0 624.8,472.0" stroke="#f7d99a" stroke-width="2.6" fill="none" stroke-linecap="round"/>
<path d="M622.2,514 Q623.3,492.0 628.6,474.0" stroke="#f7d99a" stroke-width="2.6" fill="none" stroke-linecap="round"/>
<path d="M622.8,514 Q624.4,492.0 632.4,476.0" stroke="#f7d99a" stroke-width="2.6" fill="none" stroke-linecap="round"/>
<path d="M623.4,514 Q625.6,492.0 636.2,478.0" stroke="#f7d99a" stroke-width="2.6" fill="none" stroke-linecap="round"/>
<path d="M624.0,514 Q626.7,492.0 640.0,480.0" stroke="#f7d99a" stroke-width="2.6" fill="none" stroke-linecap="round"/>
<path d="M619.0,514 Q617.2,500.0 611.5,492.0" stroke="#7cc6c4" stroke-width="0.9" fill="none"/>
<path d="M619.4,514 Q618.0,500.0 613.4,492.0" stroke="#7cc6c4" stroke-width="0.9" fill="none"/>
<path d="M619.8,514 Q618.7,500.0 615.3,492.0" stroke="#7cc6c4" stroke-width="0.9" fill="none"/>
<path d="M620.2,514 Q619.5,500.0 617.2,492.0" stroke="#7cc6c4" stroke-width="0.9" fill="none"/>
<path d="M620.6,514 Q620.2,500.0 619.1,492.0" stroke="#7cc6c4" stroke-width="0.9" fill="none"/>
<path d="M621.0,514 Q621.0,500.0 621.0,492.0" stroke="#7cc6c4" stroke-width="0.9" fill="none"/>
<path d="M621.4,514 Q621.8,500.0 622.9,492.0" stroke="#7cc6c4" stroke-width="0.9" fill="none"/>
<path d="M621.8,514 Q622.5,500.0 624.8,492.0" stroke="#7cc6c4" stroke-width="0.9" fill="none"/>
<path d="M622.2,514 Q623.3,500.0 626.7,492.0" stroke="#7cc6c4" stroke-width="0.9" fill="none"/>
<path d="M622.6,514 Q624.0,500.0 628.6,492.0" stroke="#7cc6c4" stroke-width="0.9" fill="none"/>
<path d="M623.0,514 Q624.8,500.0 630.5,492.0" stroke="#7cc6c4" stroke-width="0.9" fill="none"/>
<path d="M592,514 Q595,490 592,470" stroke="#f6d48a" stroke-width="2.5" fill="none"/>
<path d="M596,514 Q592,492 594,478" stroke="#5fb8c0" stroke-width="1.3" fill="none"/>
<path d="M649,514 Q646,490 649,470" stroke="#f6d48a" stroke-width="2.5" fill="none"/>
<path d="M645,514 Q649,492 647,478" stroke="#5fb8c0" stroke-width="1.3" fill="none"/>
<path d="M603.5,610 V580 Q603.5,566.5 621,566.5 Q638.5,566.5 638.5,580 V610 Q637,614 636.5,616 Q640.4,617 640.4,621 V627.7 H601.8 V621 Q601.8,617 605.5,616 Q605,614 603.5,610 Z" fill="url(#pk2)"/>
<path d="M603.5,580 Q603.5,566.5 621,566.5 Q638.5,566.5 638.5,580 Q621,574 603.5,580 Z" fill="#ee8f92" opacity="0.7"/>
<path d="M621,583 V627" stroke="#f6d48a" stroke-width="3.2" fill="none" stroke-linecap="round"/>
<path d="M611,587 V610 Q613,620 618,627" stroke="#f6d48a" stroke-width="2.6" fill="none" stroke-linecap="round"/>
<circle cx="609" cy="590" r="2" fill="#f6d48a"/>
<circle cx="609" cy="598" r="2" fill="#f6d48a"/>
<circle cx="609" cy="606" r="2" fill="#f6d48a"/>
<path d="M631,587 V610 Q629,620 624,627" stroke="#f6d48a" stroke-width="2.6" fill="none" stroke-linecap="round"/>
<circle cx="633" cy="590" r="2" fill="#f6d48a"/>
<circle cx="633" cy="598" r="2" fill="#f6d48a"/>
<circle cx="633" cy="606" r="2" fill="#f6d48a"/>
<path d="M613,627.7 Q617,614 621,612 Q625,614 629,627.7 Z" fill="#7cc3c8"/>
<line x1="621" y1="613" x2="614.0" y2="627.5" stroke="#5aaec0" stroke-width="0.7"/>
<line x1="621" y1="613" x2="617.5" y2="627.5" stroke="#5aaec0" stroke-width="0.7"/>
<line x1="621" y1="613" x2="621.0" y2="627.5" stroke="#5aaec0" stroke-width="0.7"/>
<line x1="621" y1="613" x2="624.5" y2="627.5" stroke="#5aaec0" stroke-width="0.7"/>
<line x1="621" y1="613" x2="628.0" y2="627.5" stroke="#5aaec0" stroke-width="0.7"/>
<path d="M595.7,680 Q621,677 646.2,680 L644,720 Q642,734 640.2,739 H601.7 Q599,734 598,720 Z" fill="url(#pk)"/>
<path d="M600,739 Q597,715 598.5,700 Q621,690 643.5,700 Q645,715 642,739 Z" fill="#f8cfa0" opacity="0.55"/>
<path d="M606.0,739 Q604.0,718 600.0,702.0" stroke="#f6d690" stroke-width="3" fill="none" stroke-linecap="round"/>
<path d="M609.0,739 Q607.4,718 604.2,701.0" stroke="#f6d690" stroke-width="3" fill="none" stroke-linecap="round"/>
<path d="M612.0,739 Q610.8,718 608.4,700.0" stroke="#f6d690" stroke-width="3" fill="none" stroke-linecap="round"/>
<path d="M615.0,739 Q614.2,718 612.6,699.0" stroke="#f6d690" stroke-width="3" fill="none" stroke-linecap="round"/>
<path d="M618.0,739 Q617.6,718 616.8,698.0" stroke="#f6d690" stroke-width="3" fill="none" stroke-linecap="round"/>
<path d="M621.0,739 Q621.0,718 621.0,697.0" stroke="#f6d690" stroke-width="3" fill="none" stroke-linecap="round"/>
<path d="M624.0,739 Q624.4,718 625.2,698.0" stroke="#f6d690" stroke-width="3" fill="none" stroke-linecap="round"/>
<path d="M627.0,739 Q627.8,718 629.4,699.0" stroke="#f6d690" stroke-width="3" fill="none" stroke-linecap="round"/>
<path d="M630.0,739 Q631.2,718 633.6,700.0" stroke="#f6d690" stroke-width="3" fill="none" stroke-linecap="round"/>
<path d="M633.0,739 Q634.6,718 637.8,701.0" stroke="#f6d690" stroke-width="3" fill="none" stroke-linecap="round"/>
<path d="M636.0,739 Q638.0,718 642.0,702.0" stroke="#f6d690" stroke-width="3" fill="none" stroke-linecap="round"/>
<path d="M606.0,739 Q604.5,720 601.0,709.0" stroke="#7fc2b8" stroke-width="0.8" fill="none"/>
<path d="M609.0,739 Q607.8,720 605.0,708.0" stroke="#7fc2b8" stroke-width="0.8" fill="none"/>
<path d="M612.0,739 Q611.1,720 609.0,707.0" stroke="#7fc2b8" stroke-width="0.8" fill="none"/>
<path d="M615.0,739 Q614.4,720 613.0,706.0" stroke="#7fc2b8" stroke-width="0.8" fill="none"/>
<path d="M618.0,739 Q617.7,720 617.0,705.0" stroke="#7fc2b8" stroke-width="0.8" fill="none"/>
<path d="M621.0,739 Q621.0,720 621.0,704.0" stroke="#7fc2b8" stroke-width="0.8" fill="none"/>
<path d="M624.0,739 Q624.3,720 625.0,705.0" stroke="#7fc2b8" stroke-width="0.8" fill="none"/>
<path d="M627.0,739 Q627.6,720 629.0,706.0" stroke="#7fc2b8" stroke-width="0.8" fill="none"/>
<path d="M630.0,739 Q630.9,720 633.0,707.0" stroke="#7fc2b8" stroke-width="0.8" fill="none"/>
<path d="M633.0,739 Q634.2,720 637.0,708.0" stroke="#7fc2b8" stroke-width="0.8" fill="none"/>
<path d="M636.0,739 Q637.5,720 641.0,709.0" stroke="#7fc2b8" stroke-width="0.8" fill="none"/>
<path d="M607,858 Q603,830 609,806 L607,792 L613,799 Q616,786 619,776 L621,782 L623,776 Q626,788 628,800 L634,794 L632,806 Q639,832 636,859.6 Z" fill="url(#pk2)"/>
<path d="M615.0,859 Q613.0,835 611.0,820.0" stroke="#f6d690" stroke-width="2.2" fill="none" stroke-linecap="round"/>
<path d="M616.5,859 Q615.0,835 613.5,818.0" stroke="#f6d690" stroke-width="2.2" fill="none" stroke-linecap="round"/>
<path d="M618.0,859 Q617.0,835 616.0,816.0" stroke="#f6d690" stroke-width="2.2" fill="none" stroke-linecap="round"/>
<path d="M619.5,859 Q619.0,835 618.5,814.0" stroke="#f6d690" stroke-width="2.2" fill="none" stroke-linecap="round"/>
<path d="M621.0,859 Q621.0,835 621.0,812.0" stroke="#f6d690" stroke-width="2.2" fill="none" stroke-linecap="round"/>
<path d="M622.5,859 Q623.0,835 623.5,814.0" stroke="#f6d690" stroke-width="2.2" fill="none" stroke-linecap="round"/>
<path d="M624.0,859 Q625.0,835 626.0,816.0" stroke="#f6d690" stroke-width="2.2" fill="none" stroke-linecap="round"/>
<path d="M625.5,859 Q627.0,835 628.5,818.0" stroke="#f6d690" stroke-width="2.2" fill="none" stroke-linecap="round"/>
<path d="M627.0,859 Q629.0,835 631.0,820.0" stroke="#f6d690" stroke-width="2.2" fill="none" stroke-linecap="round"/>
<path d="M616.0,859 Q615.0,840 613.0,822" stroke="#7fc2b8" stroke-width="0.8" fill="none"/>
<path d="M618.5,859 Q618.0,840 617.0,822" stroke="#7fc2b8" stroke-width="0.8" fill="none"/>
<path d="M621.0,859 Q621.0,840 621.0,822" stroke="#7fc2b8" stroke-width="0.8" fill="none"/>
<path d="M623.5,859 Q624.0,840 625.0,822" stroke="#7fc2b8" stroke-width="0.8" fill="none"/>
<path d="M626.0,859 Q627.0,840 629.0,822" stroke="#7fc2b8" stroke-width="0.8" fill="none"/><text x="245" y="985.5" font-size="17.5" font-weight="bold" fill="#1f7fc7" textLength="196" lengthAdjust="spacingAndGlyphs" stroke="#1f7fc7" stroke-width="0.5">Alcătuirea unui mugur gustativ</text>
<rect x="128.5" y="989" width="31.5" height="35.5" rx="4" fill="#1ea0e4"/>
<path d="M132.5,989 H156 Q160,989 160,993 V1015.8 H128.5 V993 Q128.5,989 132.5,989 Z" fill="#1b3b7e"/>
<rect x="128.5" y="1015.8" width="31.5" height="1.8" fill="#fff"/>
<path d="M134.5,1010 L140,1001.5 L142.3,1005.3 L147,998.7 L154,1010 Z" fill="#fff"/>
<circle cx="141" cy="997" r="2.4" fill="#fff"/>
<defs><linearGradient id="beige" x1="0" y1="0" x2="1" y2="0"><stop offset="0" stop-color="#ecd5b8"/><stop offset="1" stop-color="#f6e7d2"/></linearGradient><radialGradient id="beige2" gradientUnits="userSpaceOnUse" cx="250" cy="1134" r="100"><stop offset="0" stop-color="#fdf6ea"/><stop offset="0.55" stop-color="#f3e2cb"/><stop offset="1" stop-color="#ead3b6"/></radialGradient><linearGradient id="epi" x1="0" y1="0" x2="0" y2="1"><stop offset="0" stop-color="#f1a9a5"/><stop offset="0.5" stop-color="#f4b6b0"/><stop offset="1" stop-color="#f1a9a5"/></linearGradient><radialGradient id="nuc" cx="0.5" cy="0.45" r="0.6"><stop offset="0" stop-color="#c6a3dc"/><stop offset="1" stop-color="#9a72c0"/></radialGradient></defs>
<rect x="182.8" y="1031.2" width="269.4" height="205.20000000000005" fill="#ecd6ba"/>
<rect x="182.8" y="1031.2" width="120" height="205.20000000000005" fill="url(#beige2)"/>
<path d="M236,1031.2 H452.2 V1103 H438 Q433,1102 433,1098 V1095 L300,1095 Q250,1094 240,1088 Z" fill="#f2a7a6"/>
<path d="M236,1236.4 H452.2 V1164 H438 Q433,1165 433,1169 V1172 L300,1172 Q250,1172 240,1176 Z" fill="#f2a7a6"/>
<rect x="447" y="1031.2" width="5.2" height="72" fill="#ea8c8c"/>
<rect x="447" y="1164" width="5.2" height="72.4" fill="#ea8c8c"/>
<ellipse cx="342.4" cy="1131.4" rx="96.6" ry="88.2" fill="#ee9b99"/>
<ellipse cx="342.4" cy="1131.4" rx="92.6" ry="84.2" fill="#f8d9a6"/>
<path d="M262,1102 C300,1063 370,1063 440,1110 C370,1081 300,1081 262,1102 Z" fill="#eb8587" opacity="1"/>
<path d="M262,1118 C300,1086 370,1086 440,1118 C370,1104 300,1104 262,1118 Z" fill="#eb8587" opacity="1"/>
<path d="M262,1132 C300,1115 370,1115 440,1130 C370,1133 300,1133 262,1132 Z" fill="#eb8587" opacity="1"/>
<path d="M262,1147 C300,1146 370,1146 440,1142 C370,1164 300,1164 262,1147 Z" fill="#eb8587" opacity="1"/>
<path d="M262,1159 C300,1177 370,1177 440,1152 C370,1195 300,1195 262,1159 Z" fill="#eb8587" opacity="1"/>
<path d="M262,1095 C300,1044 370,1044 440,1105 C370,1056 300,1056 262,1095 Z" fill="#eb8587" opacity="1"/>
<path d="M262,1170 C300,1204 370,1204 440,1158 C370,1216 300,1216 262,1170 Z" fill="#eb8587" opacity="1"/>
<path d="M300,1081.5 Q340,1079.5 385,1081.5" stroke="#f2aaa9" stroke-width="3" fill="none" opacity="0.85" stroke-linecap="round"/>
<path d="M300,1101.8 Q340,1099.8 385,1101.8" stroke="#f2aaa9" stroke-width="3" fill="none" opacity="0.85" stroke-linecap="round"/>
<path d="M300,1126.8 Q340,1124.8 385,1126.8" stroke="#f2aaa9" stroke-width="3" fill="none" opacity="0.85" stroke-linecap="round"/>
<path d="M300,1153.4 Q340,1151.4 385,1153.4" stroke="#f2aaa9" stroke-width="3" fill="none" opacity="0.85" stroke-linecap="round"/>
<path d="M300,1179.4 Q340,1177.4 385,1179.4" stroke="#f2aaa9" stroke-width="3" fill="none" opacity="0.85" stroke-linecap="round"/>
<ellipse cx="319.5" cy="1060" rx="13.5" ry="7.8" fill="url(#nuc)" stroke="#5d3d8a" stroke-width="1.3"/>
<ellipse cx="322.3" cy="1085.2" rx="13.5" ry="7.8" fill="url(#nuc)" stroke="#5d3d8a" stroke-width="1.3"/>
<ellipse cx="326.2" cy="1114" rx="13.5" ry="7.8" fill="url(#nuc)" stroke="#5d3d8a" stroke-width="1.3"/>
<ellipse cx="326.2" cy="1151.6" rx="13.5" ry="7.8" fill="url(#nuc)" stroke="#5d3d8a" stroke-width="1.3"/>
<ellipse cx="322.3" cy="1179.6" rx="13.5" ry="7.8" fill="url(#nuc)" stroke="#5d3d8a" stroke-width="1.3"/>
<ellipse cx="319.5" cy="1205.6" rx="13.5" ry="7.8" fill="url(#nuc)" stroke="#5d3d8a" stroke-width="1.3"/>
<ellipse cx="358.7" cy="1074.8" rx="13.5" ry="7.8" fill="url(#nuc)" stroke="#5d3d8a" stroke-width="1.3"/>
<ellipse cx="353" cy="1100" rx="13.5" ry="7.8" fill="url(#nuc)" stroke="#5d3d8a" stroke-width="1.3"/>
<ellipse cx="354.2" cy="1132.8" rx="13.5" ry="7.8" fill="url(#nuc)" stroke="#5d3d8a" stroke-width="1.3"/>
<ellipse cx="353" cy="1165" rx="13.5" ry="7.8" fill="url(#nuc)" stroke="#5d3d8a" stroke-width="1.3"/>
<ellipse cx="358.7" cy="1191" rx="13.5" ry="7.8" fill="url(#nuc)" stroke="#5d3d8a" stroke-width="1.3"/>
<path d="M182.8,1136 H215 Q240,1134 258,1103 M215,1136 Q245,1132 262,1118 M215,1137 Q248,1135 266,1132 M215,1140 Q248,1142 264,1147 M215,1141 Q240,1145 256,1158" stroke="#f4cd7d" stroke-width="3" fill="none"/>
<rect x="182.8" y="1134" width="34" height="8" fill="#f4cd7d"/>
<ellipse cx="261.8" cy="1102.8" rx="6.8" ry="6" fill="#f7d98c" stroke="#b8903a" stroke-width="1.2"/><circle cx="261.8" cy="1102.8" r="2.6" fill="#a77ac8"/>
<ellipse cx="266.8" cy="1118.2" rx="6.8" ry="6" fill="#f7d98c" stroke="#b8903a" stroke-width="1.2"/><circle cx="266.8" cy="1118.2" r="2.6" fill="#a77ac8"/>
<ellipse cx="271" cy="1132" rx="6.8" ry="6" fill="#f7d98c" stroke="#b8903a" stroke-width="1.2"/><circle cx="271" cy="1132" r="2.6" fill="#a77ac8"/>
<ellipse cx="269" cy="1147.4" rx="6.8" ry="6" fill="#f7d98c" stroke="#b8903a" stroke-width="1.2"/><circle cx="269" cy="1147.4" r="2.6" fill="#a77ac8"/>
<ellipse cx="259.8" cy="1158.6" rx="6.8" ry="6" fill="#f7d98c" stroke="#b8903a" stroke-width="1.2"/><circle cx="259.8" cy="1158.6" r="2.6" fill="#a77ac8"/>
<line x1="432" y1="1106.0" x2="452" y2="1106.0" stroke="#e88a8a" stroke-width="2.2"/>
<line x1="436" y1="1109.2" x2="452" y2="1109.2" stroke="#ffffff" stroke-width="1.6"/>
<line x1="432" y1="1112.5" x2="452" y2="1112.5" stroke="#e88a8a" stroke-width="2.2"/>
<line x1="436" y1="1115.7" x2="452" y2="1115.7" stroke="#ffffff" stroke-width="1.6"/>
<line x1="432" y1="1119.0" x2="452" y2="1119.0" stroke="#e88a8a" stroke-width="2.2"/>
<line x1="436" y1="1122.2" x2="452" y2="1122.2" stroke="#ffffff" stroke-width="1.6"/>
<line x1="432" y1="1125.5" x2="452" y2="1125.5" stroke="#e88a8a" stroke-width="2.2"/>
<line x1="436" y1="1128.7" x2="452" y2="1128.7" stroke="#ffffff" stroke-width="1.6"/>
<line x1="432" y1="1132.0" x2="452" y2="1132.0" stroke="#e88a8a" stroke-width="2.2"/>
<line x1="436" y1="1135.2" x2="452" y2="1135.2" stroke="#ffffff" stroke-width="1.6"/>
<line x1="432" y1="1138.5" x2="452" y2="1138.5" stroke="#e88a8a" stroke-width="2.2"/>
<line x1="436" y1="1141.7" x2="452" y2="1141.7" stroke="#ffffff" stroke-width="1.6"/>
<line x1="432" y1="1145.0" x2="452" y2="1145.0" stroke="#e88a8a" stroke-width="2.2"/>
<line x1="436" y1="1148.2" x2="452" y2="1148.2" stroke="#ffffff" stroke-width="1.6"/>
<line x1="432" y1="1151.5" x2="452" y2="1151.5" stroke="#e88a8a" stroke-width="2.2"/>
<line x1="436" y1="1154.7" x2="452" y2="1154.7" stroke="#ffffff" stroke-width="1.6"/>
<line x1="432" y1="1158.0" x2="452" y2="1158.0" stroke="#e88a8a" stroke-width="2.2"/>
<line x1="436" y1="1161.2" x2="452" y2="1161.2" stroke="#ffffff" stroke-width="1.6"/>
<line x1="249" y1="1016.5" x2="279.3" y2="1074.2" stroke="#1a1a1a" stroke-width="1.6"/>
<line x1="389" y1="1018" x2="408" y2="1100" stroke="#1a1a1a" stroke-width="1.6"/>
<line x1="177" y1="1092" x2="210" y2="1137" stroke="#1a1a1a" stroke-width="1.6"/>
<line x1="446" y1="1123" x2="474" y2="1146" stroke="#1a1a1a" stroke-width="1.6"/>
<line x1="451" y1="1163" x2="471" y2="1190" stroke="#1a1a1a" stroke-width="1.6"/>
<text x="211.3" y="1013" font-size="13.2" fill="#231f20" textLength="85" lengthAdjust="spacingAndGlyphs" stroke="#231f20" stroke-width="0.25">Celulă de susținere</text>
<text x="354" y="1013" font-size="13.2" fill="#231f20" textLength="78" lengthAdjust="spacingAndGlyphs" stroke="#231f20" stroke-width="0.25">Celulă receptoare</text>
<text x="127.5" y="1079" font-size="13.2" fill="#231f20" textLength="21" lengthAdjust="spacingAndGlyphs" stroke="#231f20" stroke-width="0.25">Fibră</text>
<text x="127.5" y="1095" font-size="13.2" fill="#231f20" textLength="40" lengthAdjust="spacingAndGlyphs" stroke="#231f20" stroke-width="0.25">nervoasă</text>
<text x="127.5" y="1109" font-size="13.2" fill="#231f20" textLength="44.5" lengthAdjust="spacingAndGlyphs" stroke="#231f20" stroke-width="0.25">senzorială</text>
<text x="476" y="1153" font-size="13.2" fill="#231f20" textLength="14" lengthAdjust="spacingAndGlyphs" stroke="#231f20" stroke-width="0.25">Cil</text>
<text x="475" y="1199" font-size="13.2" fill="#231f20" textLength="18" lengthAdjust="spacingAndGlyphs" stroke="#231f20" stroke-width="0.25">Por</text>
</svg>
</body></html>
